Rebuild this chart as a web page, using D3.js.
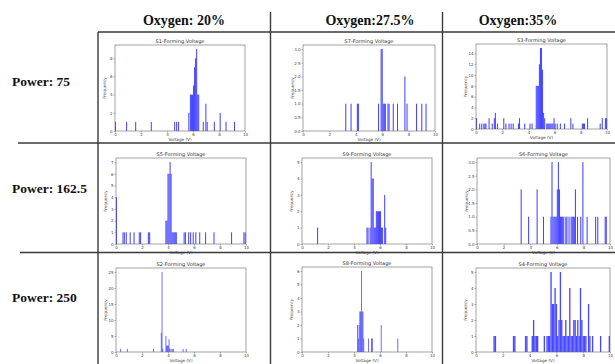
<!DOCTYPE html>
<html><head><meta charset="utf-8">
<script src="https://cdn.jsdelivr.net/npm/d3@7"></script>
<style>body{margin:0;background:#fff}svg{display:block}</style>
</head><body>
<svg id="c" width="615" height="364"></svg>
<script>
// ---- data ----
const columnLabels = ["Oxygen: 20%", "Oxygen:27.5%", "Oxygen:35%"];
const rowLabels = ["Power: 75", "Power: 162.5", "Power: 250"];
const panelTitles = [
  ["S1-Forming Voltage", "S7-Forming Voltage", "S3-Forming Voltage"],
  ["S5-Forming Voltage", "S9-Forming Voltage", "S6-Forming Voltage"],
  ["S2-Forming Voltage", "S8-Forming Voltage", "S4-Forming Voltage"]
];
const xTicks = [0, 2, 4, 6, 8, 10];

const s1Bins = [0.0,0.85,1.55,2.75,4.55,4.7,4.85,5.64,5.76,5.84,5.92,6.0,6.08,6.16,6.24,6.32,6.40,6.75,6.95,7.05,7.6,8.05,8.5,9.15];
const s1Counts = [1,1,1,1,1,1,1,2,4,4,4,5,7,8,9,4,4,1,3,1,1,2,1,1];
const s1YTicks = [0,2,4,6,8];

const s7Bins = [3.2,3.6,4.08,4.16,5.68,5.88,5.96,6.04,6.12,6.2,6.4,6.48,6.8,7.12,7.68,7.84,8.56,8.96,9.28];
const s7Counts = [1,1,1,1,1,3,3,1,1,1,1,1,1,1,2,1,1,1,1];
const s7YTicks = [0,0.5,1.0,1.5,2.0,2.5,3.0];

const s3Bins = [0.0,0.24,0.4,0.56,0.64,0.72,0.96,1.2,1.36,1.44,1.6,2.08,2.24,2.48,2.64,2.8,3.2,3.28,3.68,4.08,4.24,4.56,4.64,4.72,4.8,4.88,4.96,5.04,5.12,5.2,5.36,5.44,5.52,5.6,5.68,5.76,5.84,5.92,6.0,6.16,6.4,6.72,7.2,7.36,8.08,8.16,8.24,8.48,9.44,9.6,9.84,9.92];
const s3Counts = [2,1,1,1,1,1,2,1,2,3,1,2,1,1,1,1,1,2,1,1,1,8,8,8,12,15,15,11,3,2,1,1,1,1,1,1,1,2,1,1,1,1,2,1,1,1,1,2,1,2,2,2];
const s3YTicks = [0,2,4,6,8,10,12,14];

const s5Bins = [0.0,0.5,0.6,0.75,1.05,1.35,1.75,1.85,2.45,2.55,3.8,3.88,3.96,4.04,4.12,4.2,4.28,4.36,4.44,4.52,4.6,5.2,5.3,5.55,5.7,5.9,6.1,6.4,6.85,7.5,8.85,9.8,9.9];
const s5Counts = [4,1,1,1,1,1,1,1,1,1,2,2,6,6,7,6,1,1,1,1,1,1,1,1,1,1,1,1,1,1,1,1,1];
const s5YTicks = [0,1,2,3,4,5,6,7];

const s9Bins = [1.16,4.96,5.04,5.2,5.28,5.36,5.44,5.52,5.6,5.68,5.76,5.84,5.92,6.0,6.08,6.16,6.32,6.4];
const s9Counts = [1,1,1,1,5,4,4,1,1,2,2,2,2,2,1,1,3,1];
const s9YTicks = [0,1,2,3,4,5];

const s6Bins = [3.28,3.84,4.48,4.96,5.52,5.6,5.68,5.76,5.84,5.92,6.0,6.08,6.16,6.24,6.32,6.4,6.48,6.64,6.72,6.88,7.04,7.12,7.2,7.28,7.36,7.52,7.76,7.92,8.24,8.88,9.04,9.6,9.68];
const s6Counts = [2,1,2,1,1,3,1,1,1,1,2,3,2,1,1,1,1,1,1,1,1,1,1,1,2,1,1,3,1,1,1,1,1];
const s6YTicks = [0,0.5,1.0,1.5,2.0,2.5,3.0];

const s2Bins = [0.33,0.84,2.85,3.45,3.51,3.57,3.81,3.87,3.93,3.99,4.05,4.11,4.2,4.29,4.38,5.13,5.37];
const s2Counts = [1,1,1,6,25,1,5,2,2,2,4,1,1,1,1,1,1];
const s2YTicks = [0,5,10,15,20,25];

const s8Bins = [4.24,4.3,4.36,4.42,4.48,4.54,4.6,4.66,4.72,5.08,5.32,5.38,6.06,7.34];
const s8Counts = [2,1,2,3,3,6,3,3,1,1,1,1,2,1];
const s8YTicks = [0,1,2,3,4,5,6];

const s4Bins = [1.3,1.4,2.75,2.85,3.65,3.75,4.15,4.25,4.35,4.45,4.55,5.05,5.25,5.35,5.45,5.55,5.65,5.75,5.85,5.95,6.05,6.15,6.25,6.35,6.45,6.55,6.65,6.75,6.85,6.95,7.05,7.15,7.25,7.35,7.45,7.55,7.65,7.75,7.85,7.95,8.05,8.15,8.35,8.45,8.65,9.25,9.9];
const s4Counts = [1,1,1,1,1,1,1,2,1,1,1,1,1,1,1,5,3,3,4,3,1,2,5,2,1,1,2,1,1,4,1,1,2,2,1,2,1,4,2,1,1,1,3,1,1,1,1];
const s4YTicks = [0,1,2,3,4,5];

const binWidths = [[0.08,0.08,0.08],[0.08,0.08,0.08],[0.06,0.06,0.1]];

const panelData = [
  [[s1Bins,s1Counts,s1YTicks],[s7Bins,s7Counts,s7YTicks],[s3Bins,s3Counts,s3YTicks]],
  [[s5Bins,s5Counts,s5YTicks],[s9Bins,s9Counts,s9YTicks],[s6Bins,s6Counts,s6YTicks]],
  [[s2Bins,s2Counts,s2YTicks],[s8Bins,s8Counts,s8YTicks],[s4Bins,s4Counts,s4YTicks]]
];

// ---- layout ----
const svg = d3.select("#c");
const axRect = [
  [[115,245,45,131],[303,435,45,131],[476,607,44,129]],
  [[116,246,158,244],[302,432,158,244],[477,610,158,244]],
  [[116,246,268,352],[302,432,267,352],[476,610,268,352]]
];
const lineColor = "#3a3a3a";
const barColor = "rgb(72,72,255)";

// grid lines
const gl = svg.append("g").attr("stroke", lineColor).attr("stroke-width", 1.4);
gl.append("line").attr("x1",98).attr("x2",615).attr("y1",32).attr("y2",32);
gl.append("line").attr("x1",98).attr("x2",98).attr("y1",32).attr("y2",364);
gl.append("line").attr("x1",270.5).attr("x2",270.5).attr("y1",12).attr("y2",364);
gl.append("line").attr("x1",442.5).attr("x2",442.5).attr("y1",12).attr("y2",364);
gl.append("line").attr("x1",18).attr("x2",615).attr("y1",143).attr("y2",143);
gl.append("line").attr("x1",20).attr("x2",615).attr("y1",252.5).attr("y2",252.5);

// headers
const colCenters = [184, 370, 518];
svg.selectAll("text.col").data(columnLabels).join("text")
  .attr("class","col").attr("x",(d,i)=>colCenters[i]).attr("y",25)
  .attr("text-anchor","middle").attr("font-family","'Liberation Serif', serif")
  .attr("font-weight","bold").attr("font-size",14).attr("fill","#111").text(d=>d);
const rowBase = [86, 193, 301.5];
svg.selectAll("text.row").data(rowLabels).join("text")
  .attr("class","row").attr("x",12).attr("y",(d,i)=>rowBase[i])
  .attr("font-family","'Liberation Serif', serif")
  .attr("font-weight","bold").attr("font-size",13.5).attr("fill","#111").text(d=>d);

// panels
const tickFont = 4;
for (let r = 0; r < 3; r++) for (let c = 0; c < 3; c++) {
  const [bins, counts, yTicks] = panelData[r][c];
  const bw = binWidths[r][c];
  const [x0, x1, y0, y1] = axRect[r][c];
  const x = d3.scaleLinear().domain([0, 10]).range([x0, x1]);
  const y = d3.scaleLinear().domain([0, d3.max(counts) * 1.05]).range([y1, y0]);
  const g = svg.append("g");
  const rows = bins.map((b, i) => ({b, n: counts[i]}));
  g.selectAll("rect").data(rows).join("rect")
    .attr("x", d => x(d.b)).attr("width", d => Math.max(0.7, x(d.b + bw) - x(d.b)))
    .attr("y", d => y(d.n)).attr("height", d => y(0) - y(d.n))
    .attr("fill", barColor);
  g.append("rect").attr("x", x0).attr("y", y0).attr("width", x1 - x0).attr("height", y1 - y0)
    .attr("fill", "none").attr("stroke", "#666").attr("stroke-width", 0.6);
  const fmt = yTicks.some(t => t % 1 !== 0) ? d3.format(".1f") : d3.format("d");
  const ax = g.append("g").attr("transform", `translate(0,${y1})`)
    .call(d3.axisBottom(x).tickValues(xTicks).tickSize(1.5).tickPadding(1).tickFormat(d3.format("d")));
  const ay = g.append("g").attr("transform", `translate(${x0},0)`)
    .call(d3.axisLeft(y).tickValues(yTicks).tickSize(1.5).tickPadding(1).tickFormat(fmt));
  [ax, ay].forEach(a => {
    a.select(".domain").remove();
    a.selectAll("line").attr("stroke", "#666").attr("stroke-width", 0.5);
    a.selectAll("text").attr("font-size", tickFont).attr("font-family", "'DejaVu Sans', sans-serif").attr("fill", "#444");
  });
  g.append("text").attr("x", (x0 + x1) / 2).attr("y", y0 - 2.5).attr("text-anchor", "middle")
    .attr("font-size", 5).attr("font-family", "'DejaVu Sans', sans-serif").attr("fill", "#333")
    .text(panelTitles[r][c]);
  g.append("text").attr("x", (x0 + x1) / 2).attr("y", y1 + 10).attr("text-anchor", "middle")
    .attr("font-size", 4.2).attr("font-family", "'DejaVu Sans', sans-serif").attr("fill", "#444")
    .text("Voltage (V)");
  g.append("text").attr("transform", `translate(${x0 - 9},${(y0 + y1) / 2}) rotate(-90)`)
    .attr("text-anchor", "middle")
    .attr("font-size", 4.2).attr("font-family", "'DejaVu Sans', sans-serif").attr("fill", "#444")
    .text("Frequency");
}
</script>
</body></html>
